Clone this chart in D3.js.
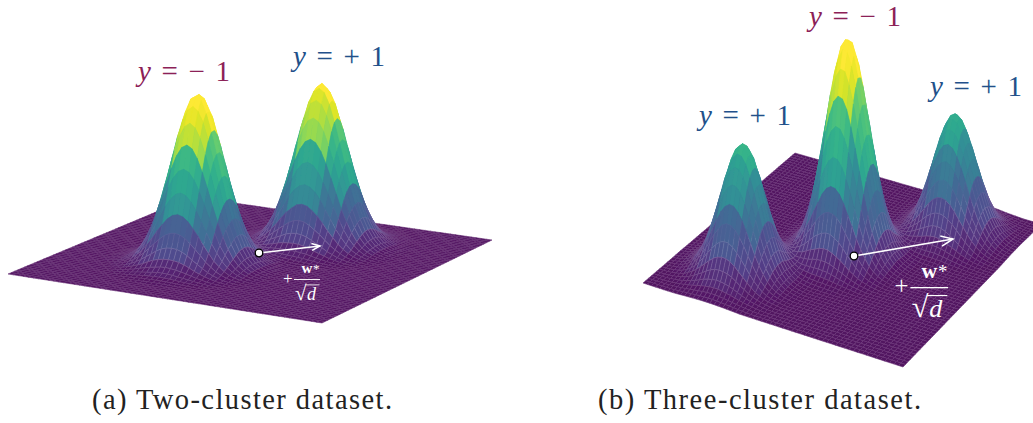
<!DOCTYPE html>
<html>
<head>
<meta charset="utf-8">
<script src="https://cdnjs.cloudflare.com/ajax/libs/d3/7.8.5/d3.min.js"></script>
<style>
  body { margin: 0; background: white; overflow: hidden; }
  svg { display: block; }
  text { font-family: "Liberation Serif", serif; }
</style>
</head>
<body>
<script>
// height of one cluster against distance from its centre
const profileRadius = [0, 0.04, 0.08, 0.12, 0.16, 0.20, 0.24, 0.28, 0.32, 0.36, 0.40, 0.44, 0.48, 0.52];
const profileHeight = [1, 0.964, 0.864, 0.72, 0.558, 0.402, 0.269, 0.168, 0.097, 0.052, 0.026, 0.012, 0.005, 0];

// clusters of the two datasets, in plane coordinates (-1..1)
const clusterXa = [0.20, -0.20];
const clusterYa = [0.43, -0.28];
const clusterPeakA = [1, 1.04];
const clusterXb = [0.53, 0.01, -0.49];
const clusterYb = [0.60, 0.01, -0.55];
const clusterPeakB = [0.56, 1, 0.59];

const captions = ["(a) Two-cluster dataset.", "(b) Three-cluster dataset."];
const labelMinus = "= \u2212 1";
const labelPlus = "= + 1";

const width = 1033;
const height = 423;
const cells = 60;       // fine mesh cells per side
const colorEvery = 3;   // faces share one colour per block of this many cells

const svg = d3.select("body").append("svg")
  .attr("width", width)
  .attr("height", height);

// the picture is a little soft
svg.append("defs").append("filter")
  .attr("id", "soft")
  .attr("x", "-5%").attr("y", "-5%").attr("width", "110%").attr("height", "110%")
  .append("feGaussianBlur").attr("stdDeviation", 0.35);

const planeScale = d3.scaleLinear().domain([0, cells]).range([-1, 1]);
const unitScale = d3.scaleLinear().domain([-1, 1]).range([0, 1]);
const profile = d3.scaleLinear().domain(profileRadius).range(profileHeight).clamp(true);
const viridis = d3.scaleSequential(d3.interpolateViridis).domain([0, 1]);

// projective map of the unit square onto four screen corners
function homography(c) {
  const [p0, p1, p2, p3] = c;
  const sx = p0[0] - p1[0] + p2[0] - p3[0];
  const sy = p0[1] - p1[1] + p2[1] - p3[1];
  const dx1 = p1[0] - p2[0], dx2 = p3[0] - p2[0];
  const dy1 = p1[1] - p2[1], dy2 = p3[1] - p2[1];
  const den = dx1 * dy2 - dx2 * dy1;
  const g = (sx * dy2 - dx2 * sy) / den;
  const h = (dx1 * sy - sx * dy1) / den;
  const a = p1[0] - p0[0] + g * p1[0];
  const b = p3[0] - p0[0] + h * p3[0];
  const d = p1[1] - p0[1] + g * p1[1];
  const e = p3[1] - p0[1] + h * p3[1];
  const w0 = 1 / (g * 0.5 + h * 0.5 + 1);
  return function (u, v) {
    const w = g * u + h * v + 1;
    return {
      x: (a * u + b * v + p0[0]) / w,
      y: (d * u + e * v + p0[1]) / w,
      k: (1 / w) / w0   // how much nearer than the plane centre
    };
  };
}

function drawSurface(xs, ys, peaks, corners, peakPx) {
  const project = homography(corners);
  const heightScale = d3.scaleLinear().domain([0, 1]).range([0, peakPx]);

  const zAt = (i, j) => {
    const px = planeScale(i), py = planeScale(j);
    return d3.sum(xs, (cx, c) => peaks[c] * profile(Math.hypot(px - cx, py - ys[c])));
  };

  // screen positions of all mesh nodes
  const nodes = d3.range(cells + 1).map(i => d3.range(cells + 1).map(j => {
    const z = zAt(i, j);
    const p = project(unitScale(planeScale(i)), unitScale(planeScale(j)));
    return { x: p.x, y: p.y - heightScale(z) * p.k, base: p.y, z };
  }));

  // colour blocks
  const blockZ = new Map();
  for (let i = 0; i < cells; i += colorEvery) {
    for (let j = 0; j < cells; j += colorEvery) {
      blockZ.set(i + "," + j, d3.mean(d3.range(colorEvery + 1), a =>
        d3.mean(d3.range(colorEvery + 1), b => zAt(i + a, j + b))));
    }
  }
  const zMax = d3.max(blockZ.values());

  const quads = [];
  for (let i = 0; i < cells; i++) {
    for (let j = 0; j < cells; j++) {
      const key = (i - i % colorEvery) + "," + (j - j % colorEvery);
      const pts = [nodes[i][j], nodes[i + 1][j], nodes[i + 1][j + 1], nodes[i][j + 1]];
      const z = d3.mean(pts, p => p.z);
      quads.push({
        pts,
        // half block colour, half own height: softer steps between the blocks
        t: Math.min(1, (blockZ.get(key) + z) / (2 * zMax)),
        z,
        depth: d3.mean(pts, p => p.base)
      });
    }
  }
  quads.sort((a, b) => d3.ascending(a.depth, b.depth));

  const line = d3.line().x(p => p.x).y(p => p.y).curve(d3.curveLinearClosed);
  const meshFade = d3.scaleLinear().domain([0, 0.08, 0.28]).range([0.15, 0.22, 0]).clamp(true);

  svg.append("g").attr("filter", "url(#soft)").selectAll("path")
    .data(quads)
    .join("path")
    .attr("d", d => line(d.pts))
    .attr("fill", d => d3.interpolateRgb(viridis(d.t), "#fff")(0.07))
    .attr("stroke", d => d3.interpolateRgb(d3.interpolateRgb(viridis(d.t), "#fff")(0.07), "#fff")(meshFade(d.z)))
    .attr("stroke-width", 0.6)
    .attr("stroke-linejoin", "round");
}

// y = -1 / y = +1 labels
function label(x, y, rest, color) {
  const t = svg.append("text")
    .attr("x", x).attr("y", y)
    .attr("fill", color)
    .attr("font-size", 29)
    .attr("textLength", 92);
  t.append("tspan").attr("font-style", "italic").text("y");
  t.append("tspan").text(" " + rest);
}

// white arrow with the w*/sqrt(d) fraction below it
function arrow(x0, y0, x1, y1, s, tx, ty) {
  const a = Math.atan2(y1 - y0, x1 - x0);
  const head = 9 * s;
  svg.append("line")
    .attr("x1", x0).attr("y1", y0).attr("x2", x1).attr("y2", y1)
    .attr("stroke", "#fff").attr("stroke-width", 1.7);
  svg.append("path")
    .attr("d", d3.line()([
      [x1 - head * Math.cos(a - 0.4), y1 - head * Math.sin(a - 0.4)],
      [x1, y1],
      [x1 - head * Math.cos(a + 0.4), y1 - head * Math.sin(a + 0.4)]
    ]))
    .attr("fill", "none").attr("stroke", "#fff").attr("stroke-width", 1.5);
  svg.append("circle")
    .attr("cx", x0).attr("cy", y0).attr("r", 3.8)
    .attr("fill", "#fff").attr("stroke", "#000").attr("stroke-width", 1.3);

  const g = svg.append("g").attr("transform", `translate(${tx},${ty}) scale(${s})`).attr("fill", "#fff");
  g.append("text").attr("x", -19).attr("y", 5).attr("font-size", 17).text("+");
  g.append("rect").attr("x", -8).attr("y", 0).attr("width", 26).attr("height", 0.9);
  g.append("text").attr("x", 5).attr("y", -6).attr("text-anchor", "middle").attr("font-size", 15).attr("font-weight", "bold").text("w");
  g.append("text").attr("x", 11).attr("y", -6).attr("font-size", 13).text("*");
  g.append("text").attr("x", -7).attr("y", 21).attr("font-size", 21).text("\u221A");
  g.append("rect").attr("x", 3.5).attr("y", 5.5).attr("width", 14).attr("height", 0.8);
  g.append("text").attr("x", 5).attr("y", 21).attr("font-size", 18).attr("font-style", "italic").text("d");
}

drawSurface(clusterXa, clusterYa, clusterPeakA, [[8, 274], [322, 323], [492, 240], [192, 197]], 163);
drawSurface(clusterXb, clusterYb, clusterPeakB, [[643, 283], [903, 367], [1041, 224], [795, 153]], 216);

const red = "#8c2157", blue = "#22508a";
label(138, 81, labelMinus, red);
label(293, 66, labelPlus, blue);
label(809, 26, labelMinus, red);
label(699, 125, labelPlus, blue);
label(930, 96, labelPlus, blue);

arrow(259, 253, 320, 246, 1, 302, 279);
arrow(854, 256, 953, 239, 1.45, 922, 287);

svg.selectAll(".caption")
  .data(captions)
  .join("text")
  .attr("class", "caption")
  .attr("x", (d, i) => i === 0 ? 92 : 598)
  .attr("y", 409)
  .attr("font-size", 28.5)
  .attr("fill", "#222")
  .attr("textLength", (d, i) => i === 0 ? 300 : 323)
  .text(d => d);
</script>
</body>
</html>
